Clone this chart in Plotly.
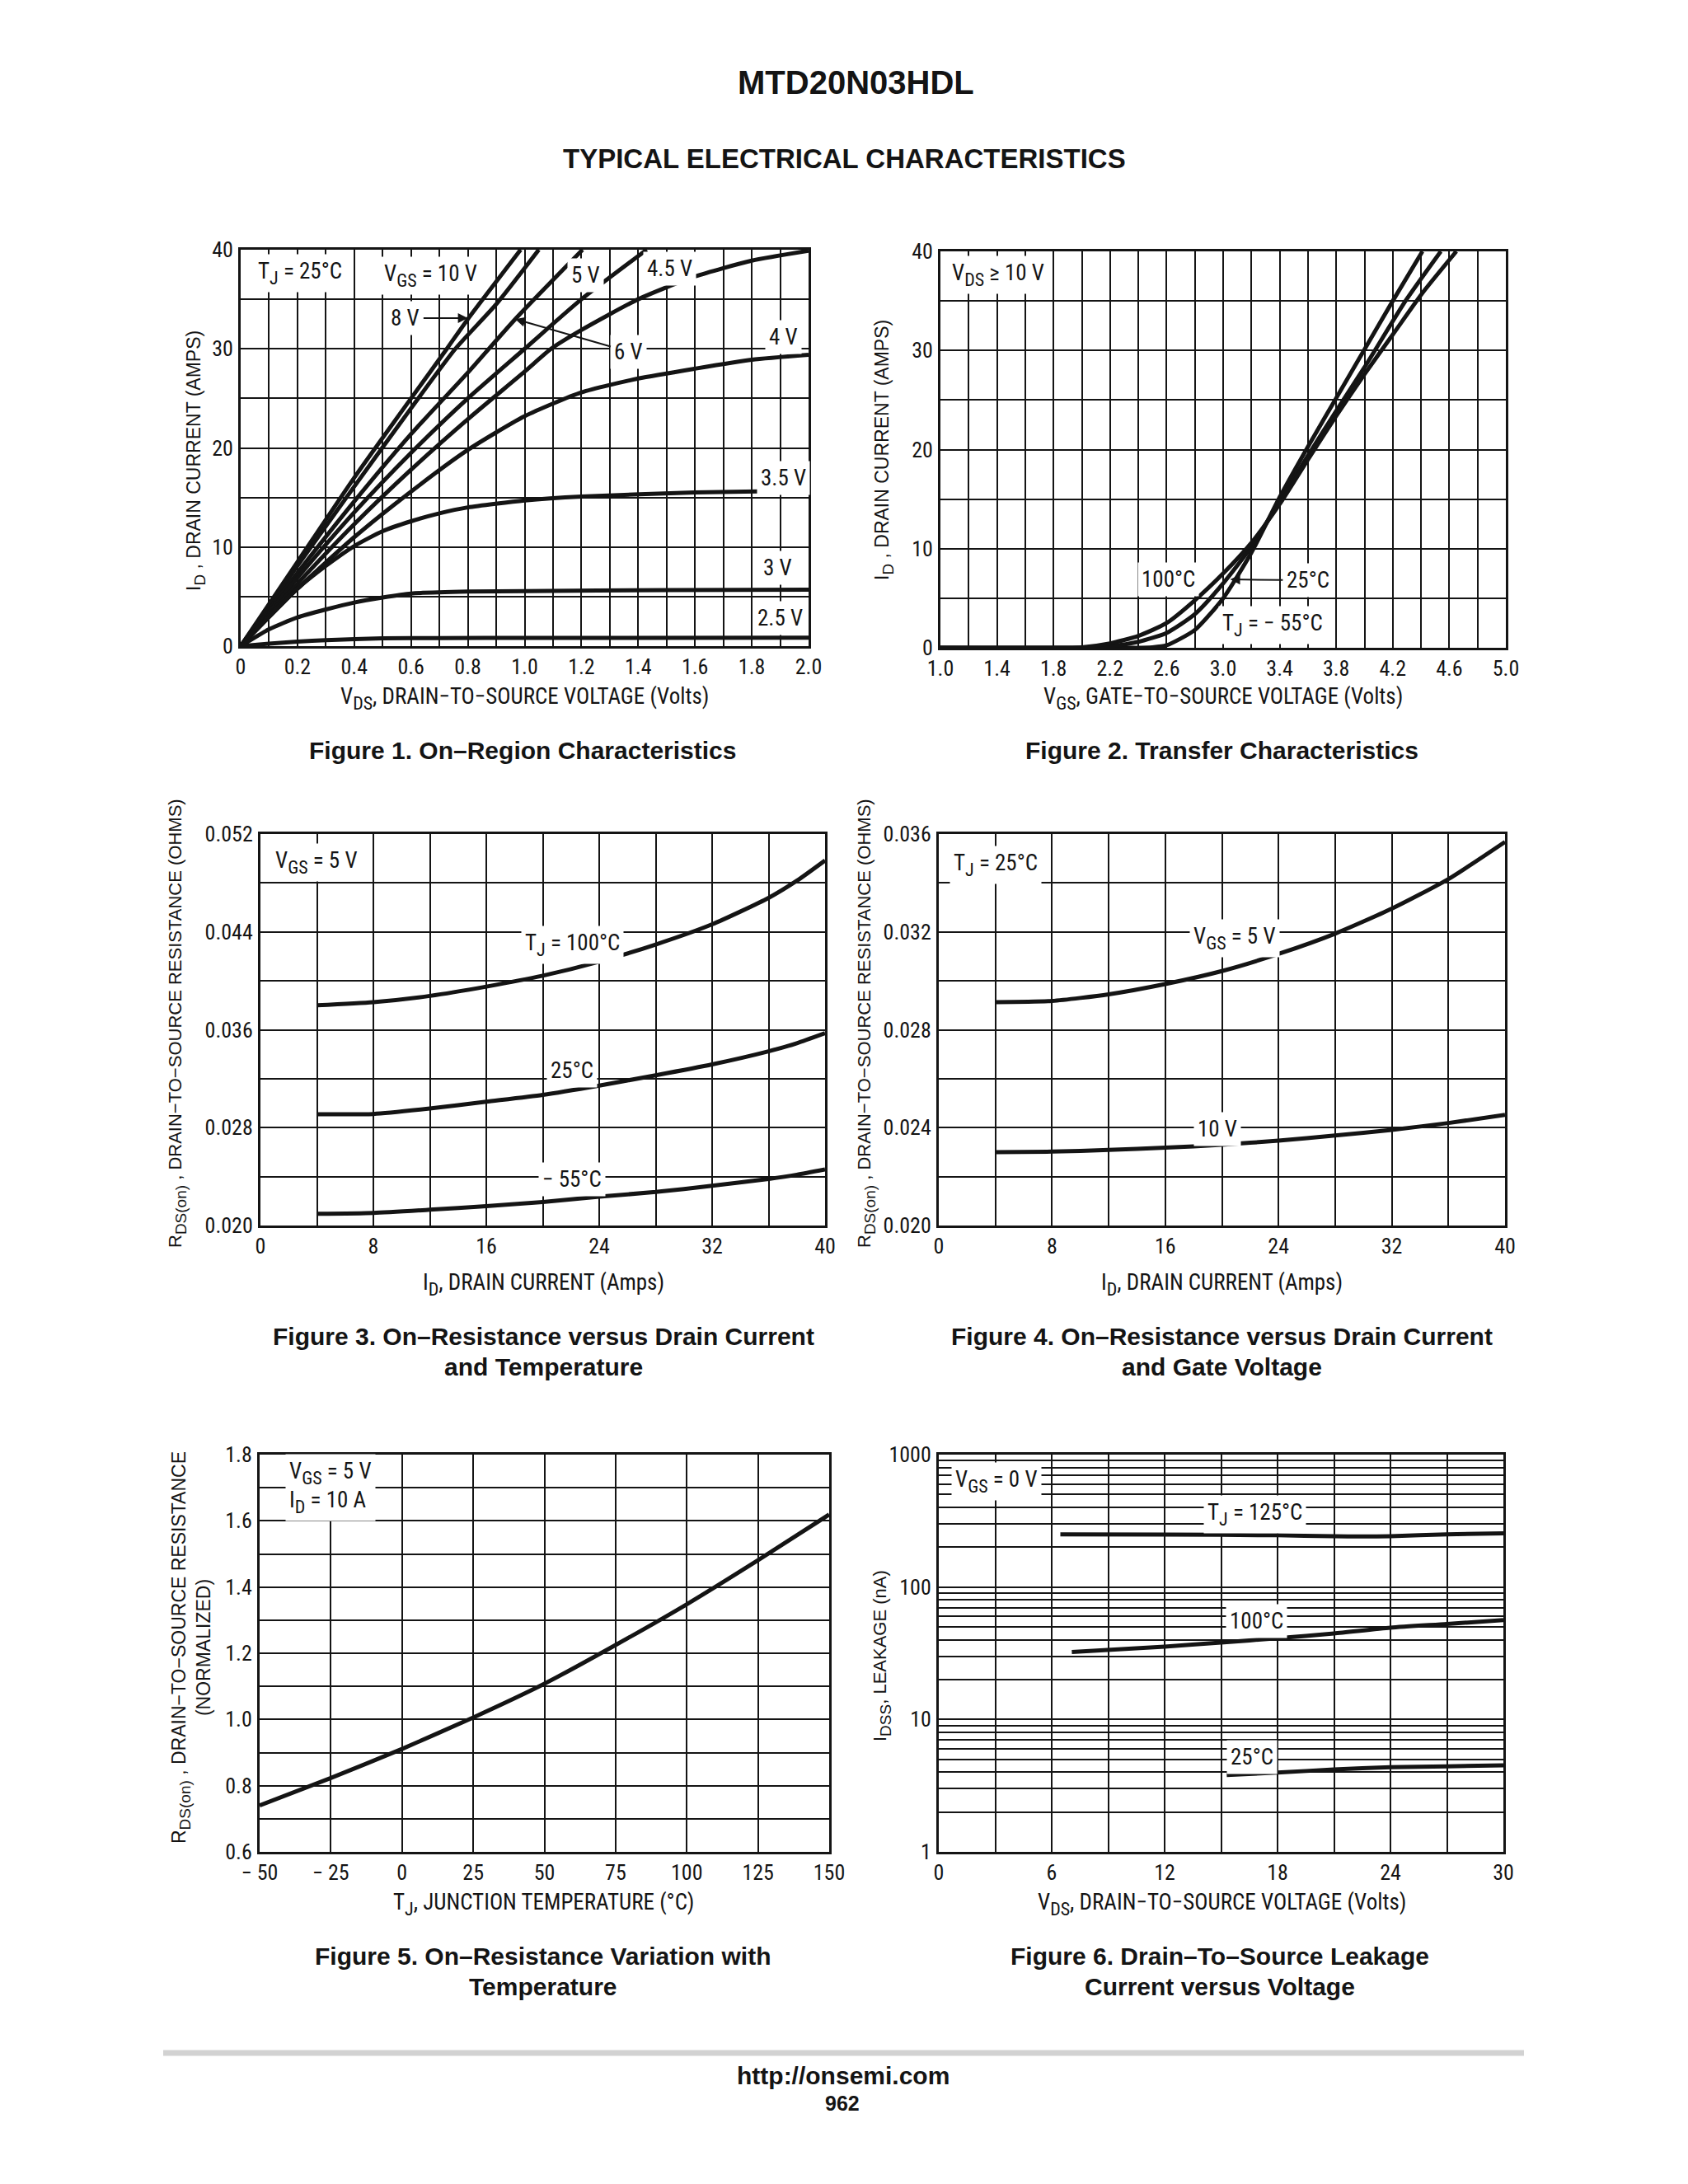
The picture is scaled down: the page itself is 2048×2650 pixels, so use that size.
import plotly.graph_objects as go

W, H = 2048, 2650
PAGE_SHIFT = 8  # the browser page margin; layout pixels below are page pixels
NARROW = "Liberation Sans Narrow, Roboto Condensed, DejaVu Sans Condensed, Liberation Sans, sans-serif"
SANS = "Liberation Sans, Arial, Helvetica, sans-serif"
INK = "#141414"

# ---------------- Figure 1 : On-region characteristics (TJ = 25 C) ----------------
f1_vds_10v = [0, 0.2, 0.4, 0.6, 0.726, 0.8, 0.986]
f1_id_10v = [0, 8.5, 17.0, 25.0, 30.0, 33.0, 40.0]
f1_vds_8v = [0, 0.2, 0.4, 0.6, 0.756, 0.9, 1.05]
f1_id_8v = [0, 8.1, 16.1, 24.0, 30.0, 34.5, 40.0]
f1_vds_6v = [0, 0.2, 0.4, 0.6, 0.8, 0.967, 1.204]
f1_id_6v = [0, 7.4, 14.6, 21.4, 27.6, 33.0, 40.0]
f1_vds_5v = [0, 0.2, 0.4, 0.6, 0.8, 1.0, 1.2, 1.43]
f1_id_5v = [0, 6.9, 13.5, 19.5, 25.0, 30.0, 35.0, 40.0]
f1_vds_45v = [0, 0.2, 0.4, 0.6, 0.8, 1.0, 1.093, 1.2, 1.4, 1.6, 1.8, 2.0]
f1_id_45v = [0, 6.3, 12.3, 17.8, 22.9, 27.7, 30.0, 31.9, 35.0, 37.3, 38.9, 39.9]
f1_vds_4v = [0, 0.2, 0.4, 0.6, 0.8, 1.0, 1.2, 1.4, 1.6, 1.8, 2.0]
f1_id_4v = [0, 5.8, 11.0, 15.6, 19.8, 23.2, 25.6, 27.0, 28.0, 28.9, 29.4]
f1_vds_35v = [0, 0.1, 0.2, 0.3, 0.4, 0.5, 0.6, 0.7, 0.8, 1.0, 1.2, 1.6, 2.0]
f1_id_35v = [0, 3.0, 5.8, 8.1, 10.1, 11.6, 12.6, 13.4, 14.0, 14.7, 15.1, 15.5, 15.7]
f1_vds_3v = [0, 0.1, 0.2, 0.3, 0.4, 0.5, 0.6, 0.8, 1.0, 1.5, 2.0]
f1_id_3v = [0, 1.7, 2.9, 3.7, 4.4, 4.9, 5.3, 5.5, 5.55, 5.65, 5.7]
f1_vds_25v = [0, 0.1, 0.2, 0.3, 0.5, 0.7, 1.0, 2.0]
f1_id_25v = [0, 0.25, 0.45, 0.6, 0.78, 0.82, 0.83, 0.85]
f1_x_labels = ["0", "0.2", "0.4", "0.6", "0.8", "1.0", "1.2", "1.4", "1.6", "1.8", "2.0"]
f1_y_labels = ["0", "10", "20", "30", "40"]

# ---------------- Figure 2 : Transfer characteristics ----------------
f2_vgs_m55 = [1.0, 2.3, 2.5, 2.6, 2.8, 3.0, 3.2, 3.4, 3.6, 3.8, 4.0, 4.2, 4.41]
f2_id_m55 = [0, 0, 0.05, 0.25, 1.8, 5.0, 9.6, 15.2, 20.3, 25.2, 30.1, 35.0, 40.0]
f2_vgs_25 = [1.0, 2.0, 2.2, 2.4, 2.6, 2.8, 3.0, 3.2, 3.4, 3.6, 3.8, 4.0, 4.29, 4.54]
f2_id_25 = [0, 0, 0.15, 0.6, 1.5, 3.4, 6.5, 10.2, 14.8, 19.4, 23.9, 28.3, 35.0, 40.0]
f2_vgs_100 = [1.0, 1.9, 2.0, 2.2, 2.4, 2.6, 2.8, 3.0, 3.2, 3.4, 3.6, 3.8, 4.0, 4.2, 4.41, 4.65]
f2_id_100 = [0, 0, 0.05, 0.45, 1.2, 2.5, 4.8, 7.5, 10.6, 14.5, 19.0, 23.4, 27.6, 31.6, 35.8, 40.0]
f2_x_labels = ["1.0", "1.4", "1.8", "2.2", "2.6", "3.0", "3.4", "3.8", "4.2", "4.6", "5.0"]
f2_y_labels = ["0", "10", "20", "30", "40"]

# ---------------- Figure 3 : RDS(on) vs ID and temperature ----------------
f3_id = [4, 8, 12, 16, 20, 24, 28, 32, 36, 38, 40]
f3_r_100 = [0.0380, 0.03826, 0.03877, 0.03953, 0.04042, 0.04157, 0.04297, 0.04462, 0.04678, 0.04818, 0.04984]
f3_r_25 = [0.02910, 0.02912, 0.02956, 0.03012, 0.03068, 0.03144, 0.03228, 0.03317, 0.03424, 0.03490, 0.03572]
f3_r_m55 = [0.02096, 0.02103, 0.02129, 0.02159, 0.02192, 0.02236, 0.02274, 0.02325, 0.02381, 0.02415, 0.02458]
f3_x_labels = ["0", "8", "16", "24", "32", "40"]
f3_y_labels = ["0.020", "0.028", "0.036", "0.044", "0.052"]

# ---------------- Figure 4 : RDS(on) vs ID and gate voltage ----------------
f4_id = [4, 8, 12, 16, 20, 24, 28, 32, 36, 40]
f4_r_5v = [0.02913, 0.02918, 0.02945, 0.02987, 0.03040, 0.03110, 0.03193, 0.03295, 0.03416, 0.03568]
f4_r_10v = [0.02300, 0.02302, 0.02309, 0.02318, 0.02330, 0.02347, 0.02368, 0.02391, 0.02419, 0.02452]
f4_x_labels = ["0", "8", "16", "24", "32", "40"]
f4_y_labels = ["0.020", "0.024", "0.028", "0.032", "0.036"]

# ---------------- Figure 5 : normalized RDS(on) vs TJ ----------------
f5_tj = [-50, -25, 0, 25, 50, 75, 100, 125, 150]
f5_r = [0.740, 0.823, 0.911, 1.006, 1.108, 1.225, 1.348, 1.481, 1.619]
f5_x_labels = ["\u2212 50", "\u2212 25", "0", "25", "50", "75", "100", "125", "150"]
f5_y_labels = ["0.6", "0.8", "1.0", "1.2", "1.4", "1.6", "1.8"]

# ---------------- Figure 6 : IDSS leakage vs VDS ----------------
f6_vds_125 = [6.46, 12, 18, 21, 22.5, 24, 27, 30]
f6_i_125 = [250, 249, 246, 242, 241, 242, 250, 254]
f6_vds_100 = [7.07, 12, 15, 18, 21, 24, 27, 30]
f6_i_100 = [32.3, 35.5, 38.1, 41.1, 44.6, 49.3, 52.6, 56.4]
f6_vds_25 = [15.3, 18, 21, 24, 27, 30]
f6_i_25 = [3.80, 3.97, 4.19, 4.36, 4.42, 4.51]
f6_x_labels = ["0", "6", "12", "18", "24", "30"]
f6_y_labels = ["1", "10", "100", "1000"]

# ---------------- layout: page-pixel boxes of the six plot frames ----------------
boxes = {
    1: ((292, 981), (303, 784)),
    2: ((1141, 1827), (305, 786)),
    3: ((316, 1001), (1012, 1487)),
    4: ((1139, 1826), (1012, 1487)),
    5: ((315, 1006), (1765, 2247)),
    6: ((1139, 1824), (1765, 2247)),
}


def fx(p):
    return (p - PAGE_SHIFT) / W


def fy(p):
    return 1 - (p - PAGE_SHIFT) / H


def seq(start, step, count, nd=4):
    return [round(start + step * i, nd) for i in range(count)]


def sub(s, px):
    # lowered, slightly smaller subscript drawn in one span
    return f'<span style="font-size:{px}px;baseline-shift:-{round(px * 0.3)}px">{s}</span>'


def axis(domain, anchor, rng, tickvals, ticktext, minor_vals, kind="linear", is_x=True):
    return dict(domain=domain, anchor=anchor, range=rng, type=kind, automargin=False,
                tickmode="array", tickvals=tickvals, ticktext=ticktext,
                showgrid=True, gridcolor=INK, gridwidth=2,
                minor=dict(tickmode="array", tickvals=minor_vals, showgrid=True,
                           gridcolor=INK, gridwidth=2, ticks=""),
                showline=True, linecolor=INK, linewidth=3, mirror=True,
                ticks="", zeroline=False, fixedrange=True,
                tickfont=dict(family=NARROW, size=26, color=INK),
                ticklabelstandoff=0 if is_x else 1)


fig = go.Figure()
LINE = dict(color=INK, width=5, shape="spline", smoothing=0.6)


def add(xs, ys, n, name):
    ax = "x" if n == 1 else f"x{n}"
    ay = "y" if n == 1 else f"y{n}"
    fig.add_trace(go.Scatter(x=xs, y=ys, mode="lines", line=LINE, xaxis=ax, yaxis=ay,
                             name=name, showlegend=False, hoverinfo="skip"))


for xs, ys, nm in [(f1_vds_10v, f1_id_10v, "10 V"), (f1_vds_8v, f1_id_8v, "8 V"),
                   (f1_vds_6v, f1_id_6v, "6 V"), (f1_vds_5v, f1_id_5v, "5 V"),
                   (f1_vds_45v, f1_id_45v, "4.5 V"), (f1_vds_4v, f1_id_4v, "4 V"),
                   (f1_vds_35v, f1_id_35v, "3.5 V"), (f1_vds_3v, f1_id_3v, "3 V"),
                   (f1_vds_25v, f1_id_25v, "2.5 V")]:
    add(xs, ys, 1, nm)
for xs, ys, nm in [(f2_vgs_m55, f2_id_m55, "-55C"), (f2_vgs_25, f2_id_25, "25C"),
                   (f2_vgs_100, f2_id_100, "100C")]:
    add(xs, ys, 2, nm)
for ys, nm in [(f3_r_100, "100C"), (f3_r_25, "25C"), (f3_r_m55, "-55C")]:
    add(f3_id, ys, 3, nm)
for ys, nm in [(f4_r_5v, "5 V"), (f4_r_10v, "10 V")]:
    add(f4_id, ys, 4, nm)
add(f5_tj, f5_r, 5, "RDS norm")
for xs, ys, nm in [(f6_vds_125, f6_i_125, "125C"), (f6_vds_100, f6_i_100, "100C"),
                   (f6_vds_25, f6_i_25, "25C")]:
    add(xs, ys, 6, nm)

f6_minor = [k * 10 ** d for d in range(3) for k in range(2, 10)]

specs = {
    1: ([0, 2.0], seq(0, 0.2, len(f1_x_labels)), f1_x_labels, seq(0, 0.1, 21),
        [0, 40], seq(0, 10, len(f1_y_labels)), f1_y_labels, seq(0, 5, 9), "linear"),
    2: ([1.0, 5.0], seq(1.0, 0.4, len(f2_x_labels)), f2_x_labels, seq(1.0, 0.2, 21),
        [0, 40], seq(0, 10, len(f2_y_labels)), f2_y_labels, seq(0, 5, 9), "linear"),
    3: ([0, 40], seq(0, 8, len(f3_x_labels)), f3_x_labels, seq(0, 4, 11),
        [0.020, 0.052], seq(0.020, 0.008, len(f3_y_labels)), f3_y_labels, seq(0.020, 0.004, 9), "linear"),
    4: ([0, 40], seq(0, 8, len(f4_x_labels)), f4_x_labels, seq(0, 4, 11),
        [0.020, 0.036], seq(0.020, 0.004, len(f4_y_labels)), f4_y_labels, seq(0.020, 0.002, 9), "linear"),
    5: ([-50, 150], seq(-50, 25, len(f5_x_labels)), f5_x_labels, seq(-50, 25, 9),
        [0.6, 1.8], seq(0.6, 0.2, len(f5_y_labels)), f5_y_labels, seq(0.6, 0.1, 13), "linear"),
    6: ([0, 30], seq(0, 6, len(f6_x_labels)), f6_x_labels, seq(0, 3, 11),
        [0, 3], [1, 10, 100, 1000], f6_y_labels, f6_minor, "log"),
}

lay = {}
for n, (xr, xtv, xtt, xmin, yr, ytv, ytt, ymin, ykind) in specs.items():
    (xa, xb), (ya, yb) = boxes[n]
    xname = "xaxis" if n == 1 else f"xaxis{n}"
    yname = "yaxis" if n == 1 else f"yaxis{n}"
    anc_x = "y" if n == 1 else f"y{n}"
    anc_y = "x" if n == 1 else f"x{n}"
    lay[xname] = axis([fx(xa), fx(xb)], anc_x, xr, xtv, xtt, xmin, "linear", True)
    lay[yname] = axis([fy(yb), fy(ya)], anc_y, yr, ytv, ytt, ymin, ykind, False)

ann = []
NS = 27   # size of the labels inside the plots
SS = 22   # size of their subscripts


def note(n, x, y, text, size=NS, **kw):
    xr = "x" if n == 1 else f"x{n}"
    yr = "y" if n == 1 else f"y{n}"
    d = dict(x=x, y=y, xref=xr, yref=yr, text=text, showarrow=False,
             font=dict(family=NARROW, size=size, color=INK),
             bgcolor="white", borderpad=4)
    d.update(kw)
    ann.append(d)


def arrow(n, tipx, tipy, tx, ty, text):
    xr = "x" if n == 1 else f"x{n}"
    yr = "y" if n == 1 else f"y{n}"
    ann.append(dict(x=tipx, y=tipy, xref=xr, yref=yr, ax=tx, ay=ty, axref=xr, ayref=yr,
                    text=text, showarrow=True, arrowhead=2, arrowsize=1.2, arrowwidth=2,
                    arrowcolor=INK, font=dict(family=NARROW, size=NS, color=INK),
                    bgcolor="white", borderpad=4))


# figure 1 labels
note(1, 0.21, 37.6, f"T{sub('J', SS)} = 25°C")
note(1, 0.67, 37.4, f"V{sub('GS', SS)} = 10 V")
arrow(1, 0.80, 33.1, 0.58, 33.1, "8 V")
arrow(1, 0.967, 33.0, 1.367, 29.7, "6 V")
note(1, 1.215, 37.4, "5 V")
note(1, 1.51, 38.1, "4.5 V")
note(1, 1.91, 31.2, "4 V")
note(1, 1.91, 17.0, "3.5 V")
note(1, 1.89, 7.9, "3 V")
note(1, 1.90, 2.8, "2.5 V")
# figure 2 labels
note(2, 1.41, 37.6, f"V{sub('DS', SS)} ≥ 10 V")
note(2, 2.615, 6.9, "100°C")
arrow(2, 3.05, 6.9, 3.6, 6.8, "25°C")
note(2, 3.35, 2.3, f"T{sub('J', SS)} = − 55°C")
# figure 3 labels
note(3, 3.97, 0.0497, f"V{sub('GS', SS)} = 5 V")
note(3, 22.1, 0.04297, f"T{sub('J', SS)} = 100°C")
note(3, 22.1, 0.03266, "25°C")
note(3, 22.1, 0.02376, "− 55°C")
# figure 4 labels
note(4, 4.0, 0.03473, f"T{sub('J', SS)} = 25°C")
note(4, 20.9, 0.03174, f"V{sub('GS', SS)} = 5 V")
note(4, 19.7, 0.02394, "10 V")
# figure 5 labels
note(5, -41, 1.70, f"V{sub('GS', SS)} = 5 V<br>I{sub('D', SS)} = 10 A", xanchor="left", align="left")
# figure 6 labels (log axis -> y given in log10 units)
note(6, 3.08, 2.798, f"V{sub('GS', SS)} = 0 V")
note(6, 16.8, 2.548, f"T{sub('J', SS)} = 125°C")
note(6, 16.9, 1.740, "100°C")
note(6, 16.65, 0.718, "25°C")


def ptext(x, y, text, size, family=NARROW, angle=0, bold=False):
    ann.append(dict(x=fx(x), y=fy(y), xref="paper", yref="paper", showarrow=False,
                    text=f"<b>{text}</b>" if bold else text, textangle=angle,
                    font=dict(family=family, size=size, color=INK),
                    xanchor="center", yanchor="middle"))


# axis titles
TS = 22  # subscript size in the axis titles
ptext(636, 848, f"V{sub('DS', TS)}, DRAIN−TO−SOURCE VOLTAGE (Volts)", 27)
ptext(237, 559, f"I{sub('D', 19)} , DRAIN CURRENT (AMPS)", 23, SANS, -90)
ptext(1484, 848, f"V{sub('GS', TS)}, GATE−TO−SOURCE VOLTAGE (Volts)", 27)
ptext(1073, 546, f"I{sub('D', 19)} , DRAIN CURRENT (AMPS)", 23, SANS, -90)
ptext(659, 1558, f"I{sub('D', TS)}, DRAIN CURRENT (Amps)", 27)
ptext(215, 1242, f"R{sub('DS(on)', 19)} , DRAIN−TO−SOURCE RESISTANCE (OHMS)", 22, SANS, -90)
ptext(1482, 1558, f"I{sub('D', TS)}, DRAIN CURRENT (Amps)", 27)
ptext(1051, 1242, f"R{sub('DS(on)', 19)} , DRAIN−TO−SOURCE RESISTANCE (OHMS)", 22, SANS, -90)
ptext(659, 2310, f"T{sub('J', TS)}, JUNCTION TEMPERATURE (°C)", 27)
ptext(232, 1999, f"R{sub('DS(on)', 19)} , DRAIN−TO−SOURCE RESISTANCE<br>(NORMALIZED)", 23, SANS, -90)
ptext(1482, 2310, f"V{sub('DS', TS)}, DRAIN−TO−SOURCE VOLTAGE (Volts)", 27)
ptext(1070, 2009, f"I{sub('DSS', 19)}, LEAKAGE (nA)", 22, SANS, -90)

# page headings and captions
ptext(1038, 100, "MTD20N03HDL", 40, SANS, bold=True)
ptext(1024, 193, "TYPICAL ELECTRICAL CHARACTERISTICS", 33, SANS, bold=True)
ptext(634, 911, "Figure 1. On–Region Characteristics", 30, SANS, bold=True)
ptext(1482, 911, "Figure 2. Transfer Characteristics", 30, SANS, bold=True)
ptext(659, 1621, "Figure 3. On–Resistance versus Drain Current", 30, SANS, bold=True)
ptext(659, 1658, "and Temperature", 30, SANS, bold=True)
ptext(1482, 1621, "Figure 4. On–Resistance versus Drain Current", 30, SANS, bold=True)
ptext(1482, 1658, "and Gate Voltage", 30, SANS, bold=True)
ptext(659, 2373, "Figure 5. On–Resistance Variation with", 30, SANS, bold=True)
ptext(659, 2410, "Temperature", 30, SANS, bold=True)
ptext(1480, 2373, "Figure 6. Drain–To–Source Leakage", 30, SANS, bold=True)
ptext(1480, 2410, "Current versus Voltage", 30, SANS, bold=True)
ptext(1023, 2518, "http://onsemi.com", 30, SANS, bold=True)
ptext(1022, 2552, "962", 25, SANS, bold=True)

fig.update_layout(
    template="none",
    width=W, height=H, autosize=False,
    margin=dict(l=0, r=0, t=0, b=0, pad=0),
    paper_bgcolor="white", plot_bgcolor="white",
    showlegend=False, annotations=ann,
    shapes=[dict(type="line", xref="paper", yref="paper", x0=fx(198), x1=fx(1849),
                 y0=fy(2491), y1=fy(2491), line=dict(color="#d2d2d2", width=7))],
    **lay,
)

fig.write_html("out.html", config={"displayModeBar": False})
